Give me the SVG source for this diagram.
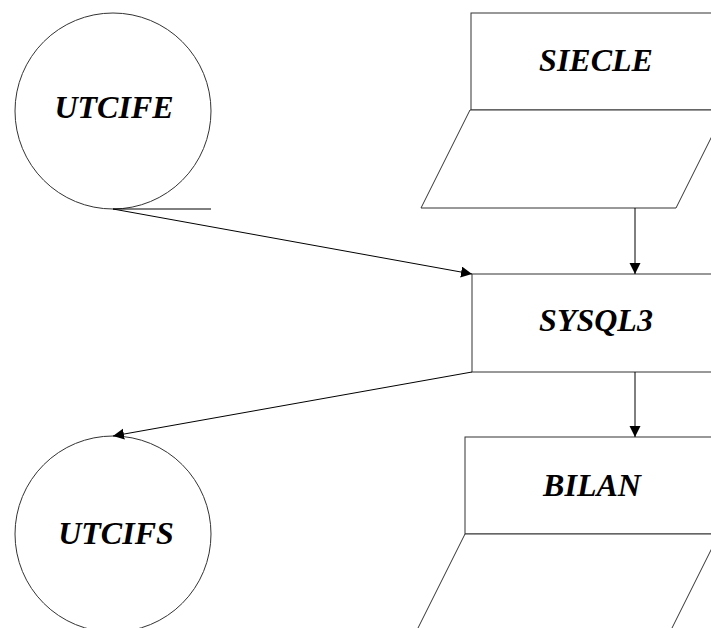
<svg xmlns="http://www.w3.org/2000/svg" width="711" height="628" viewBox="0 0 711 628">
  <style>
    .shape { fill: #ffffff; stroke: #333333; stroke-width: 1; }
    .edge { fill: none; stroke: #000000; stroke-width: 1; }
    .label { font-family: "Liberation Serif", "Times New Roman", serif; font-size: 32px; font-weight: bold; font-style: italic; fill: #000000; text-anchor: middle; }
  </style>
  <defs>
    <marker id="arrow" markerUnits="userSpaceOnUse" markerWidth="12" markerHeight="12" refX="11" refY="5.5" orient="auto">
      <path d="M0,0 L11,5.5 L0,11 z" fill="#000000"/>
    </marker>
  </defs>
  <rect width="711" height="628" fill="#ffffff"/>

  <!-- input file UTCIFE: circle with tangent tail -->
  <g id="utcife">
    <circle class="shape" cx="113" cy="111" r="98"/>
    <line class="edge" x1="113" y1="209" x2="211" y2="209"/>
    <text class="label" x="114" y="118">UTCIFE</text>
  </g>

  <!-- SIECLE: box over a slanted record -->
  <g id="siecle">
    <rect class="shape" x="471" y="13" width="254" height="97"/>
    <polygon class="shape" points="470,110 725,110 676,208 421,208"/>
    <text class="label" x="596" y="71">SIECLE</text>
  </g>

  <!-- SYSQL3 processing box -->
  <g id="sysql3">
    <rect class="shape" x="472" y="274" width="254" height="98"/>
    <text class="label" x="596" y="331">SYSQL3</text>
  </g>

  <!-- output file UTCIFS -->
  <g id="utcifs">
    <circle class="shape" cx="113" cy="534" r="98"/>
    <text class="label" x="116" y="544">UTCIFS</text>
  </g>

  <!-- BILAN: box over a slanted record -->
  <g id="bilan">
    <rect class="shape" x="465" y="437" width="254" height="97"/>
    <polygon class="shape" points="465,534 719,534 670,632 416,632"/>
    <text class="label" x="592" y="496">BILAN</text>
  </g>

  <!-- connectors -->
  <g id="connectors">
    <line class="edge" x1="635" y1="208" x2="635" y2="274" marker-end="url(#arrow)"/>
    <line class="edge" x1="113" y1="209" x2="472" y2="274" marker-end="url(#arrow)"/>
    <line class="edge" x1="472" y1="372" x2="113" y2="436" marker-end="url(#arrow)"/>
    <line class="edge" x1="635" y1="372" x2="635" y2="437" marker-end="url(#arrow)"/>
  </g>
</svg>
